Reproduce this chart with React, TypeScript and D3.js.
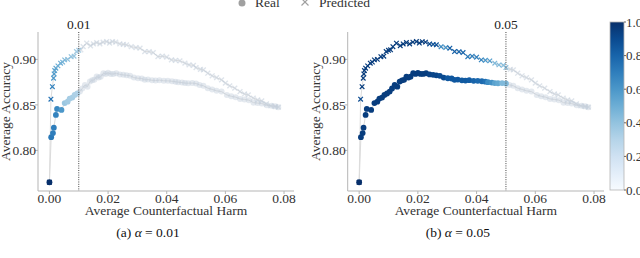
import * as d3 from "d3";

// harm / accuracy readings, one entry per operating point
const harmReal = [0, 0.0006, 0.0012, 0.0015, 0.0022, 0.0026, 0.0041, 0.0052, 0.0062, 0.0069, 0.0078, 0.0086, 0.0095, 0.0104, 0.0112, 0.0121, 0.013, 0.0138, 0.0146, 0.0153, 0.0161, 0.0168, 0.0175, 0.0184, 0.0192, 0.02, 0.0209, 0.0218, 0.0228, 0.024, 0.0252, 0.0263, 0.0275, 0.0288, 0.0302, 0.0315, 0.0325, 0.0336, 0.035, 0.0362, 0.0375, 0.039, 0.0404, 0.0418, 0.043, 0.0439, 0.0452, 0.0462, 0.0473, 0.0487, 0.05, 0.0512, 0.0525, 0.054, 0.0555, 0.057, 0.0587, 0.0605, 0.062, 0.0635, 0.065, 0.0665, 0.068, 0.0696, 0.071, 0.0724, 0.0741, 0.0758, 0.077, 0.078];
const accReal = [0.765, 0.8145, 0.819, 0.825, 0.839, 0.8456, 0.8445, 0.852, 0.8535, 0.857, 0.858, 0.861, 0.8625, 0.8646, 0.868, 0.872, 0.87, 0.8756, 0.877, 0.8775, 0.8811, 0.88, 0.881, 0.8848, 0.884, 0.8852, 0.884, 0.884, 0.8848, 0.8835, 0.883, 0.8825, 0.882, 0.88, 0.8793, 0.879, 0.8775, 0.8778, 0.877, 0.8767, 0.8772, 0.8765, 0.8764, 0.876, 0.8755, 0.875, 0.8745, 0.874, 0.8738, 0.874, 0.8735, 0.872, 0.871, 0.8684, 0.867, 0.8655, 0.8646, 0.861, 0.8595, 0.8585, 0.8566, 0.856, 0.8552, 0.8525, 0.852, 0.8515, 0.8495, 0.849, 0.8485, 0.8475];

const harmPred = [0, 0.0005, 0.001, 0.0014, 0.0016, 0.0018, 0.0022, 0.0029, 0.0038, 0.0045, 0.0052, 0.0062, 0.0074, 0.0084, 0.0092, 0.01, 0.0107, 0.0115, 0.0127, 0.014, 0.015, 0.0161, 0.0172, 0.0183, 0.0195, 0.0205, 0.0215, 0.0226, 0.024, 0.0252, 0.0263, 0.0279, 0.0295, 0.0309, 0.0325, 0.034, 0.0354, 0.037, 0.0385, 0.04, 0.0416, 0.043, 0.0445, 0.0462, 0.0476, 0.0491, 0.05, 0.0515, 0.0525, 0.054, 0.0555, 0.057, 0.0587, 0.06, 0.0615, 0.0632, 0.065, 0.0665, 0.0678, 0.0695, 0.071, 0.0724, 0.074, 0.0755, 0.077, 0.0781];
const accPred = [0.765, 0.8563, 0.87, 0.8793, 0.884, 0.8877, 0.8903, 0.8929, 0.8958, 0.897, 0.8995, 0.9, 0.903, 0.9035, 0.9086, 0.91, 0.9105, 0.914, 0.9178, 0.915, 0.917, 0.9185, 0.917, 0.919, 0.9196, 0.918, 0.9195, 0.919, 0.917, 0.9165, 0.916, 0.914, 0.913, 0.9123, 0.9086, 0.9085, 0.9075, 0.903, 0.9035, 0.9024, 0.8995, 0.899, 0.8984, 0.8958, 0.894, 0.8935, 0.891, 0.889, 0.8885, 0.8848, 0.882, 0.88, 0.8775, 0.874, 0.871, 0.8684, 0.8645, 0.862, 0.861, 0.8575, 0.8555, 0.8545, 0.851, 0.849, 0.8482, 0.8475];

// colour value of each point that lies inside the harm budget
const shadeRealA = [1.0, 0.72, 0.7, 0.7, 0.68, 0.66, 0.6, 0.38, 0.36, 0.35, 0.34, 0.33, 0.32];
const shadePredA = [1.0, 0.75, 0.68, 0.6, 0.58, 0.55, 0.55, 0.5, 0.5, 0.48, 0.45, 0.42, 0.4, 0.38, 0.36, 0.35];
const shadeRealB = [1.0, 0.95, 0.95, 0.95, 0.95, 0.95, 0.95, 0.95, 0.95, 0.95, 0.95, 0.95, 0.95, 0.95, 0.95, 0.95, 0.95, 0.95, 0.95, 0.95, 0.95, 0.95, 0.95, 0.95, 0.95, 0.95, 0.95, 0.95, 0.95, 0.93, 0.92, 0.92, 0.9, 0.9, 0.85, 0.85, 0.85, 0.85, 0.84, 0.84, 0.83, 0.8, 0.78, 0.78, 0.75, 0.65, 0.62, 0.55, 0.52, 0.45, 0.45];
const shadePredB = [1.0, 0.9, 0.95, 0.95, 0.95, 0.95, 0.95, 0.95, 0.95, 0.95, 0.95, 0.95, 0.95, 0.95, 0.95, 0.95, 0.95, 0.95, 0.95, 0.95, 0.95, 0.95, 0.95, 0.95, 0.95, 0.95, 0.95, 0.95, 0.9, 0.88, 0.88, 0.65, 0.62, 0.82, 0.82, 0.8, 0.8, 0.72, 0.7, 0.7, 0.68, 0.6, 0.58, 0.45, 0.45, 0.42, 0.42];

const xTicks = [0, 0.02, 0.04, 0.06, 0.08];
const yTicks = [0.8, 0.85, 0.9];
const cbTicks = [0, 0.2, 0.4, 0.6, 0.8, 1.0];

const FONT = "'Liberation Serif', 'Times New Roman', serif";
const FADED = "#c3cedb";
const SPINE = "#b5b5b5";

type PanelProps = {
  left: number;
  right: number;
  alpha: number;
  alphaLabel: string;
  letter: string;
  shadeReal: number[];
  shadePred: number[];
};

function Cross({ cx, cy, r, color, sw, op }: any) {
  return (
    <path
      d={`M${cx - r},${cy - r}L${cx + r},${cy + r}M${cx - r},${cy + r}L${cx + r},${cy - r}`}
      stroke={color}
      strokeWidth={sw}
      opacity={op}
      fill="none"
    />
  );
}

function Panel({ left, right, alpha, alphaLabel, letter, shadeReal, shadePred }: PanelProps) {
  const top = 32;
  const bottom = 191;
  const x = d3.scaleLinear().domain([-0.0039, 0.0834]).range([left, right]);
  const y = d3.scaleLinear().domain([0.7554, 0.9301]).range([bottom, top]);
  const line = d3.line<number>().x((d) => x(d)).y(() => 0);

  const realPts = harmReal.map((h, i) => ({ h, a: accReal[i], s: shadeReal[i], on: h <= alpha + 1e-9 }));
  const predPts = harmPred.map((h, i) => ({ h, a: accPred[i], s: shadePred[i], on: h <= alpha + 1e-9 }));

  const path = (pts: { h: number; a: number }[]) =>
    d3.line<{ h: number; a: number }>().x((d) => x(d.h)).y((d) => y(d.a))(pts) || "";
  void line;

  const mid = (left + right) / 2;
  return (
    <g>
      {/* connecting lines */}
      <path d={path(realPts)} stroke="#dcdcdc" strokeWidth={1} fill="none" />
      <path d={path(predPts)} stroke="#dcdcdc" strokeWidth={1} fill="none" />
      {/* faded points beyond the harm budget */}
      {realPts.filter((p) => !p.on).map((p, i) => (
        <circle key={"rf" + i} cx={x(p.h)} cy={y(p.a)} r={3} fill={FADED} opacity={0.45} />
      ))}
      {predPts.filter((p) => !p.on).map((p, i) => (
        <Cross key={"pf" + i} cx={x(p.h)} cy={y(p.a)} r={2.4} color={FADED} sw={1.4} op={0.55} />
      ))}
      {/* coloured points */}
      {realPts.filter((p) => p.on).map((p, i) => (
        <circle key={"r" + i} cx={x(p.h)} cy={y(p.a)} r={2.9} fill={d3.interpolateBlues(p.s ?? 0)} />
      ))}
      {predPts.filter((p) => p.on).map((p, i) => (
        <Cross key={"p" + i} cx={x(p.h)} cy={y(p.a)} r={2.3} color={d3.interpolateBlues(p.s ?? 0)} sw={1.2} op={1} />
      ))}
      {/* threshold line */}
      <line x1={x(alpha)} x2={x(alpha)} y1={top} y2={bottom} stroke="#444" strokeWidth={1} strokeDasharray="1,1.3" />
      <text x={x(alpha)} y={29} textAnchor="middle" fontSize={13.5} fill="#222">
        {alphaLabel}
      </text>
      {/* spines */}
      <line x1={left} x2={left} y1={top} y2={bottom} stroke={SPINE} />
      <line x1={left} x2={right} y1={bottom} y2={bottom} stroke={SPINE} />
      {xTicks.map((t) => (
        <g key={"xt" + t}>
          <line x1={x(t)} x2={x(t)} y1={bottom} y2={bottom + 3} stroke={SPINE} />
          <text x={x(t)} y={203} textAnchor="middle" fontSize={13.5} fill="#333">
            {t.toFixed(2)}
          </text>
        </g>
      ))}
      {yTicks.map((t) => (
        <g key={"yt" + t}>
          <line x1={left - 3} x2={left} y1={y(t)} y2={y(t)} stroke={SPINE} />
          <text x={left - 2} y={y(t)} dy="0.35em" textAnchor="end" fontSize={13.5} fill="#333">
            {t.toFixed(2)}
          </text>
        </g>
      ))}
      <text x={mid} y={214.5} textAnchor="middle" fontSize={13.5} fill="#333">
        Average Counterfactual Harm
      </text>
      <text transform={`translate(${left - 28},${(top + bottom) / 2}) rotate(-90)`} textAnchor="middle" fontSize={13.5} fill="#333">
        Average Accuracy
      </text>
      <text x={mid - 18} y={237} textAnchor="middle" fontSize={13.5} fill="#111">
        ({letter}) <tspan fontStyle="italic">α</tspan> = {alphaLabel}
      </text>
    </g>
  );
}

function ColorBar() {
  const cx = 610;
  const w = 14;
  const cy = d3.scaleLinear().domain([0, 1]).range([190, 22]);
  const stops = d3.range(0, 1.0001, 0.1);
  return (
    <g>
      <defs>
        <linearGradient id="cbg" x1="0" y1="1" x2="0" y2="0">
          {stops.map((s) => (
            <stop key={s} offset={s} stopColor={d3.interpolateBlues(s)} />
          ))}
        </linearGradient>
      </defs>
      <rect x={cx} y={cy(1)} width={w} height={cy(0) - cy(1)} fill="url(#cbg)" stroke={SPINE} strokeWidth={0.8} />
      {cbTicks.map((t) => (
        <g key={t}>
          <line x1={cx + w} x2={cx + w + 2} y1={cy(t)} y2={cy(t)} stroke="#666" />
          <text x={cx + w + 2} y={cy(t)} dy="0.35em" fontSize={13} fill="#333">
            {t.toFixed(1)}
          </text>
        </g>
      ))}
    </g>
  );
}

export default function App() {
  return (
    <svg width={640} height={258} style={{ position: "absolute", left: 0, top: 0, background: "#fff" }} fontFamily={FONT}>
      <rect width={640} height={258} fill="#fff" />
      {/* legend */}
      <circle cx={242} cy={3} r={3.5} fill="#a0a0a0" />
      <text x={255} y={7} fontSize={13.5} fill="#333">Real</text>
      <Cross cx={305} cy={2} r={3.5} color="#a0a0a0" sw={1.2} op={1} />
      <text x={319} y={7} fontSize={13.5} fill="#333">Predicted</text>
      <Panel left={38} right={294} alpha={0.01} alphaLabel="0.01" letter="a" shadeReal={shadeRealA} shadePred={shadePredA} />
      <Panel left={347.7} right={604} alpha={0.05} alphaLabel="0.05" letter="b" shadeReal={shadeRealB} shadePred={shadePredB} />
      <ColorBar />
    </svg>
  );
}
